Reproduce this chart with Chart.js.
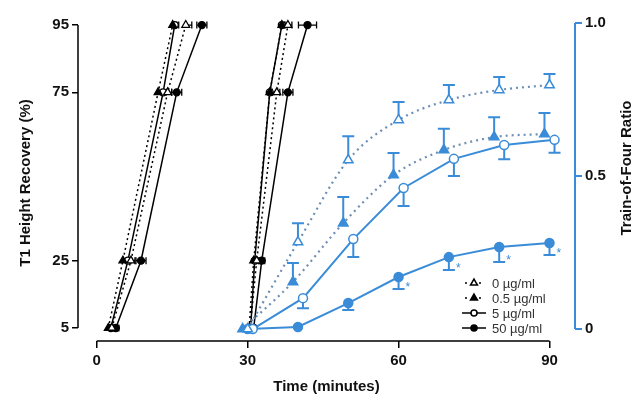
<!DOCTYPE html>
<html>
<head>
<meta charset="utf-8">
<script src="https://cdn.jsdelivr.net/npm/chart.js@4/dist/chart.umd.min.js"></script>
<style>
  html, body { margin: 0; padding: 0; background: #fff; }
</style>
</head>
<body>
<canvas id="c" width="639" height="397"></canvas>
<script>
// T1 height recovery levels (%)
const levels = [5, 25, 75, 95];

// time (min) to reach each level, first recovery
const early0 = [3.0, 6.8, 14.1, 17.7];
const early05 = [2.3, 5.2, 12.2, 15.1];
const early5 = [2.8, 6.2, 13.2, 15.5];
const early50 = [3.8, 8.8, 15.9, 20.9];
const earlyErr0 = [0.4, 0.8, 0.8, 1.2];
const earlyErr05 = [0.4, 0.6, 0.6, 0.8];
const earlyErr5 = [0.4, 0.6, 0.6, 0.8];
const earlyErr50 = [0.6, 1.0, 1.0, 1.0];

// second recovery
const late0 = [30.5, 31.8, 35.8, 38.0];
const late05 = [30.3, 31.2, 34.4, 36.8];
const late5 = [30.6, 31.4, 34.4, 36.8];
const late50 = [31.2, 32.8, 38.0, 41.9];
const lateErr0 = [0.3, 0.5, 0.6, 0.8];
const lateErr05 = [0.3, 0.4, 0.5, 0.6];
const lateErr5 = [0.3, 0.4, 0.5, 0.6];
const lateErr50 = [0.4, 0.6, 1.0, 1.8];

// train-of-four ratio
const tofTimes0 = [30, 40, 50, 60, 70, 80, 90];
const tofTimes05 = [29, 39, 49, 59, 69, 79, 89];
const tofTimes5 = [31, 41, 51, 61, 71, 81, 91];
const tofTimes50 = [30, 40, 50, 60, 70, 80, 90];
const tof0 = [0, 0.284, 0.552, 0.683, 0.748, 0.781, 0.797];
const tof05 = [0, 0.154, 0.346, 0.503, 0.585, 0.627, 0.637];
const tof5 = [0, 0.101, 0.294, 0.461, 0.556, 0.601, 0.618];
const tof50 = [0, 0.007, 0.085, 0.170, 0.235, 0.268, 0.281];
const tofErr0 = [0, 0.062, 0.078, 0.059, 0.049, 0.042, 0.036];   // drawn up
const tofErr05 = [0, 0.062, 0.085, 0.072, 0.069, 0.065, 0.069];  // drawn up
const tofErr5 = [0, 0.033, 0.059, 0.059, 0.056, 0.046, 0.042];   // drawn down
const tofErr50 = [0, 0, 0.023, 0.039, 0.042, 0.049, 0.039];      // drawn down
const sig50 = [false, false, false, true, true, true, true];

const xTicks = [0, 30, 60, 90];
const leftTicks = [5, 25, 75, 95];
const rightTicks = [0, 0.5, 1.0];
const legendLabels = ['0 µg/ml', '0.5 µg/ml', '5 µg/ml', '50 µg/ml'];

const BLUE = '#3a8cd8';
const BLUE_DOT = '#6d8fb4';
const FONT = '"Liberation Sans", Arial, sans-serif';

// marker look per concentration: 0, 0.5, 5, 50
const styles = [
  { shape: 'triangle', open: true, dotted: true, r: 4.5 },
  { shape: 'triangle', open: false, dotted: true, r: 4.5 },
  { shape: 'circle', open: true, dotted: false, r: 3.5 },
  { shape: 'circle', open: false, dotted: false, r: 3.5 }
];

function t1Set(times, st) {
  return {
    data: times.map((t, i) => ({ x: t, y: levels[i] })),
    yAxisID: 'yL',
    borderColor: '#000',
    borderWidth: 1.5,
    borderDash: st.dotted ? [2, 3] : [],
    pointStyle: st.shape,
    pointRadius: st.r,
    pointBorderWidth: 1.3,
    pointBorderColor: '#000',
    pointBackgroundColor: st.open ? '#fff' : '#000',
    tension: 0,
    clip: false
  };
}

function tofSet(times, vals, st) {
  return {
    data: times.map((t, i) => ({ x: t, y: vals[i] })),
    yAxisID: 'yR',
    borderColor: st.dotted ? BLUE_DOT : BLUE,
    borderWidth: st.dotted ? 2.2 : 2,
    borderDash: st.dotted ? [2, 4] : [],
    pointStyle: st.shape,
    pointRadius: st.r + 1,
    pointBorderWidth: 1.5,
    pointBorderColor: BLUE,
    pointBackgroundColor: st.open ? '#fff' : BLUE,
    cubicInterpolationMode: st.dotted ? 'monotone' : 'default',
    tension: st.dotted ? 0.4 : 0,
    clip: false
  };
}

const t1Groups = [
  [early0, earlyErr0], [early05, earlyErr05], [early5, earlyErr5], [early50, earlyErr50],
  [late0, lateErr0], [late05, lateErr05], [late5, lateErr5], [late50, lateErr50]
];
const tofGroups = [
  [tofTimes0, tof0, tofErr0, -1], [tofTimes05, tof05, tofErr05, -1],
  [tofTimes5, tof5, tofErr5, 1], [tofTimes50, tof50, tofErr50, 1]
];

const datasets = [];
tofGroups.forEach((g, i) => datasets.push(tofSet(g[0], g[1], styles[i])));
t1Groups.forEach((g, i) => datasets.push(t1Set(g[0], styles[i % 4])));

const overlay = {
  id: 'overlay',
  beforeDatasetsDraw(chart) {
    const { ctx, scales: { x, yL, yR } } = chart;
    ctx.save();
    // vertical error bars on TOF points
    ctx.strokeStyle = BLUE;
    ctx.lineWidth = 2;
    tofGroups.forEach(([times, vals, errs, dir]) => {
      times.forEach((t, i) => {
        if (!errs[i]) return;
        const px = x.getPixelForValue(t);
        const y0 = yR.getPixelForValue(vals[i]);
        const y1 = yR.getPixelForValue(vals[i] - dir * errs[i]);
        ctx.beginPath();
        ctx.moveTo(px, y0); ctx.lineTo(px, y1);
        ctx.moveTo(px - 6, y1); ctx.lineTo(px + 6, y1);
        ctx.stroke();
      });
    });
    // horizontal error bars on T1 points
    ctx.strokeStyle = '#000';
    ctx.lineWidth = 1.3;
    t1Groups.forEach(([times, errs], gi) => {
      const both = gi % 4 === 3;
      times.forEach((t, i) => {
        const py = yL.getPixelForValue(levels[i]);
        const xa = x.getPixelForValue(both ? t - errs[i] : t);
        const xb = x.getPixelForValue(t + errs[i]);
        ctx.beginPath();
        ctx.moveTo(xa, py); ctx.lineTo(xb, py);
        ctx.moveTo(xb, py - 3.5); ctx.lineTo(xb, py + 3.5);
        if (both) { ctx.moveTo(xa, py - 3.5); ctx.lineTo(xa, py + 3.5); }
        ctx.stroke();
      });
    });
    ctx.restore();
  },
  afterDraw(chart) {
    const { ctx, chartArea, scales: { x, yL, yR } } = chart;
    ctx.save();
    // axis lines
    ctx.lineWidth = 1.5;
    ctx.strokeStyle = '#000';
    ctx.beginPath();
    ctx.moveTo(chartArea.left, yL.getPixelForValue(95));
    ctx.lineTo(chartArea.left, yL.getPixelForValue(5));
    ctx.moveTo(x.getPixelForValue(0), chartArea.bottom);
    ctx.lineTo(x.getPixelForValue(90), chartArea.bottom);
    ctx.stroke();
    ctx.strokeStyle = BLUE;
    ctx.lineWidth = 2;
    ctx.beginPath();
    ctx.moveTo(chartArea.right, yR.getPixelForValue(1));
    ctx.lineTo(chartArea.right, yR.getPixelForValue(0));
    ctx.stroke();

    // asterisks on 50 µg/ml
    ctx.fillStyle = BLUE;
    ctx.font = '12px ' + FONT;
    ctx.textAlign = 'left';
    ctx.textBaseline = 'middle';
    tofTimes50.forEach((t, i) => {
      if (!sig50[i]) return;
      const px = x.getPixelForValue(t);
      const py = yR.getPixelForValue(tof50[i] - tofErr50[i]);
      ctx.fillText('*', px + 7, py - 1);
    });

    // titles
    ctx.fillStyle = '#111';
    ctx.font = 'bold 15px ' + FONT;
    ctx.textAlign = 'center';
    ctx.textBaseline = 'middle';
    ctx.fillText('Time (minutes)', (chartArea.left + chartArea.right) / 2, 387);
    ctx.save();
    ctx.translate(26, 183);
    ctx.rotate(-Math.PI / 2);
    ctx.fillText('T1 Height Recovery (%)', 0, 0);
    ctx.restore();
    ctx.save();
    ctx.translate(627, 168);
    ctx.rotate(-Math.PI / 2);
    ctx.fillText('Train-of-Four Ratio', 0, 0);
    ctx.restore();

    // legend
    const rowsY = [283, 298, 313, 328];
    ctx.font = '13px ' + FONT;
    ctx.textAlign = 'left';
    legendLabels.forEach((lab, i) => {
      const st = styles[i];
      const yy = rowsY[i];
      ctx.strokeStyle = '#000';
      ctx.lineWidth = 1.5;
      ctx.setLineDash(st.dotted ? [2, 5] : []);
      ctx.beginPath();
      ctx.moveTo(st.dotted ? 465 : 462, yy);
      ctx.lineTo(486, yy);
      ctx.stroke();
      ctx.setLineDash([]);
      ctx.fillStyle = st.open ? '#fff' : '#000';
      ctx.strokeStyle = '#000';
      Chart.helpers.drawPoint(ctx, { pointStyle: st.shape, radius: st.r - 0.5, borderWidth: 1.3, rotation: 0 }, 474, yy);
      ctx.fillStyle = '#333';
      ctx.fillText(lab, 492, yy + 1);
    });
    ctx.restore();
  }
};

const tickFont = { family: FONT, size: 15, weight: 'bold' };

new Chart(document.getElementById('c'), {
  type: 'line',
  data: { datasets },
  options: {
    responsive: false,
    animation: false,
    layout: { padding: { top: 22, left: 0, right: 0, bottom: 0 } },
    plugins: { legend: { display: false }, tooltip: { enabled: false } },
    scales: {
      x: {
        type: 'linear', min: -3.72, max: 95.07,
        afterBuildTicks: s => { s.ticks = xTicks.map(v => ({ value: v })); },
        afterFit: s => { s.height = 56; },
        border: { display: false },
        grid: { drawOnChartArea: false, drawTicks: true, tickLength: 7, color: '#000', lineWidth: 1.5 },
        ticks: { font: tickFont, color: '#111', padding: 4, maxRotation: 0 }
      },
      yL: {
        type: 'linear', position: 'left', min: 1.14, max: 95.9,
        afterBuildTicks: s => { s.ticks = leftTicks.map(v => ({ value: v })); },
        afterFit: s => { s.width = 78; },
        border: { display: false },
        grid: { drawOnChartArea: false, drawTicks: true, tickLength: 6, color: '#000', lineWidth: 1.5 },
        ticks: { font: tickFont, color: '#111', padding: 3 }
      },
      yR: {
        type: 'linear', position: 'right', min: -0.039, max: 1.003,
        afterBuildTicks: s => { s.ticks = rightTicks.map(v => ({ value: v })); },
        afterFit: s => { s.width = 64; },
        border: { display: false },
        grid: { drawOnChartArea: false, drawTicks: true, tickLength: 7, color: BLUE, lineWidth: 2 },
        ticks: {
          font: tickFont, color: '#111', padding: 3,
          callback: v => (v === 0 ? '0' : v.toFixed(1))
        }
      }
    }
  },
  plugins: [overlay]
});
</script>
</body>
</html>
